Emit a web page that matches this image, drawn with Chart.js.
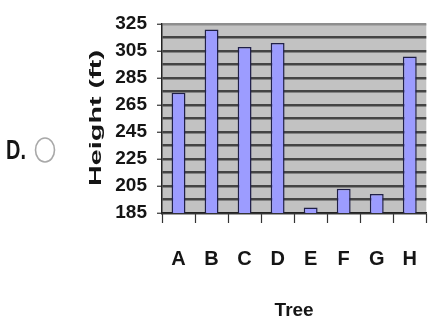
<!DOCTYPE html>
<html>
<head>
<meta charset="utf-8">
<script src="https://cdn.jsdelivr.net/npm/chart.js@4/dist/chart.umd.min.js"></script>
<style>
  html, body { margin: 0; padding: 0; background: #ffffff; overflow: hidden; }
  #wrap { position: relative; width: 438px; height: 323px; overflow: hidden; }
  canvas { display: block; }
</style>
</head>
<body>
<div id="wrap"><canvas id="chart" width="441" height="323"></canvas></div>
<script>
// Tree heights in feet
const trees = ['A', 'B', 'C', 'D', 'E', 'F', 'G', 'H'];
const heights = [274, 321, 308, 311, 189, 203, 199, 301];
const yTickLabels = [185, 205, 225, 245, 265, 285, 305, 325];
const yMin = 185;
const yMax = 325;

const FONT = "'Liberation Sans', Arial, Helvetica, sans-serif";
const INK = '#151515';

// grey plot background
const plotBackground = {
  id: 'plotBackground',
  beforeDraw(chart) {
    const { ctx, chartArea: a } = chart;
    ctx.save();
    ctx.fillStyle = '#c2c2c2';
    ctx.fillRect(a.left, a.top, a.right - a.left, a.bottom - a.top);
    ctx.restore();
  }
};

// stretched vertical axis caption and the answer marker on the left
const sideText = {
  id: 'sideText',
  afterDraw(chart) {
    const { ctx } = chart;
    ctx.save();
    ctx.fillStyle = INK;
    ctx.textAlign = 'center';
    ctx.textBaseline = 'middle';
    ctx.font = 'bold 16px ' + FONT;
    ctx.translate(97, 118);
    ctx.rotate(-Math.PI / 2);
    ctx.scale(1.8, 1);
    ctx.fillText('Height (ft)', 0, 0);
    ctx.restore();

    ctx.save();
    ctx.fillStyle = INK;
    ctx.textAlign = 'left';
    ctx.textBaseline = 'middle';
    ctx.font = 'bold 19px ' + FONT;
    ctx.translate(6, 151);
    ctx.scale(1.05, 1.45);
    ctx.fillText('D.', 0, 0);
    ctx.restore();

    ctx.save();
    ctx.strokeStyle = '#a8a8a8';
    ctx.lineWidth = 1.6;
    ctx.beginPath();
    ctx.ellipse(45, 150, 9.5, 12, 0, 0, Math.PI * 2);
    ctx.stroke();
    ctx.restore();
  }
};

new Chart(document.getElementById('chart'), {
  type: 'bar',
  data: {
    labels: trees,
    datasets: [{
      data: heights,
      backgroundColor: '#9c9cff',
      borderColor: '#202048',
      borderWidth: 1.5,
      categoryPercentage: 1,
      barPercentage: 0.42
    }]
  },
  options: {
    responsive: false,
    animation: false,
    devicePixelRatio: 1,
    layout: { padding: { top: 24, left: 0, right: 0, bottom: 0 } },
    plugins: {
      legend: { display: false },
      tooltip: { enabled: false }
    },
    scales: {
      x: {
        offset: true,
        afterFit(scale) { scale.height = 110; },
        grid: {
          offset: true,
          drawOnChartArea: false,
          tickLength: 10,
          tickColor: '#333',
          tickWidth: 1.2
        },
        border: { display: true, color: '#222', width: 1.5 },
        ticks: {
          color: INK,
          padding: 24,
          font: { family: FONT, size: 20, weight: 'bold' }
        },
        title: {
          display: true,
          text: 'Tree',
          color: INK,
          font: { family: FONT, size: 19, weight: 'bold' },
          padding: { top: 0, bottom: 1 }
        }
      },
      y: {
        min: yMin,
        max: yMax,
        afterFit(scale) { scale.width = 162; },
        grid: {
          color: (c) => (c.tick && c.tick.value === yMax) ? '#8e8e8e' : '#444444',
          lineWidth: 2.5,
          tickLength: 5,
          tickColor: (c) => (c.tick && yTickLabels.includes(c.tick.value)) ? '#333' : 'rgba(0,0,0,0)',
          tickWidth: 1.2
        },
        border: { display: true, color: '#222', width: 1.5 },
        ticks: {
          stepSize: 10,
          autoSkip: false,
          padding: 10,
          color: INK,
          font: { family: FONT, size: 19, weight: 'bold' },
          callback: (v) => yTickLabels.includes(v) ? String(v) : ''
        }
      }
    }
  },
  plugins: [plotBackground, sideText]
});
</script>
</body>
</html>
